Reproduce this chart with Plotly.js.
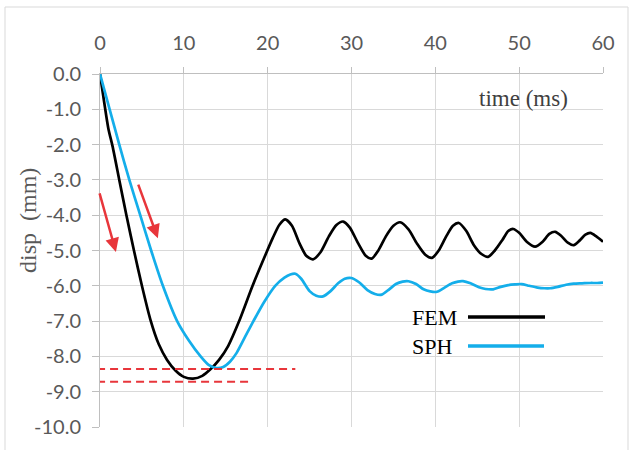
<!DOCTYPE html>
<html>
<head>
<meta charset="utf-8">
<script src="https://cdn.plot.ly/plotly-3.0.1.min.js"></script>
<style>
  html, body { margin: 0; padding: 0; background: #ffffff; }
  #chart { width: 629px; height: 450px; }
</style>
</head>
<body>
<div id="chart"></div>
<script>
// ---- data ----
const femTime = [0, 0.5, 1.0, 1.5, 2.3, 3.15, 4.05, 5.0, 6.0, 7.0, 8.0, 9.0, 10.0, 11.1, 12.2, 13.2, 14.2, 15.3, 16.6, 18.2, 19.6, 20.6, 21.4, 22.1, 22.9, 23.8, 24.6, 25.4, 26.3, 27.3, 28.2, 29.0, 29.8, 30.8, 31.7, 32.4, 33.2, 34.1, 35.0, 35.8, 36.8, 37.8, 38.8, 39.6, 40.4, 41.3, 42.1, 42.8, 43.7, 44.6, 45.5, 46.3, 47.1, 48.0, 48.7, 49.3, 50.0, 50.9, 51.9, 52.8, 53.6, 54.3, 55.0, 55.8, 56.5, 57.2, 57.9, 58.5, 59.2, 60.0];
const femDisp = [0, -0.8, -1.55, -2.05, -3.0, -4.0, -5.0, -6.0, -6.95, -7.65, -8.1, -8.4, -8.58, -8.63, -8.55, -8.36, -8.1, -7.7, -7.0, -6.0, -5.2, -4.65, -4.27, -4.12, -4.3, -4.8, -5.15, -5.25, -5.05, -4.6, -4.28, -4.18, -4.35, -4.8, -5.15, -5.23, -5.0, -4.6, -4.3, -4.2, -4.4, -4.8, -5.12, -5.21, -5.0, -4.6, -4.3, -4.22, -4.45, -4.85, -5.1, -5.18, -5.0, -4.7, -4.45, -4.39, -4.5, -4.75, -4.89, -4.75, -4.53, -4.47, -4.58, -4.78, -4.85, -4.72, -4.55, -4.5, -4.6, -4.75];

const sphTime = [0, 1.15, 2.3, 3.5, 4.8, 6.1, 7.5, 9.2, 10.6, 12.0, 13.0, 13.9, 14.7, 15.5, 16.3, 17.3, 18.3, 19.6, 20.9, 22.0, 22.7, 23.3, 24.0, 25.0, 25.8, 26.6, 27.5, 28.4, 29.2, 30.0, 30.9, 31.9, 32.8, 33.6, 34.5, 35.3, 36.1, 36.8, 37.7, 38.6, 39.4, 40.2, 41.1, 42.0, 42.7, 43.3, 44.2, 45.2, 46.0, 46.9, 47.8, 48.7, 49.5, 50.3, 51.2, 52.2, 53.0, 53.7, 54.6, 55.6, 56.5, 57.5, 58.5, 59.3, 60.0];
const sphDisp = [0, -1.0, -2.0, -3.0, -4.0, -5.0, -6.0, -7.0, -7.55, -8.0, -8.25, -8.33, -8.3, -8.15, -7.9, -7.45, -7.0, -6.45, -6.0, -5.77, -5.68, -5.66, -5.8, -6.15, -6.28, -6.3, -6.15, -5.93, -5.8, -5.78, -5.9, -6.12, -6.23, -6.25, -6.1, -5.95, -5.88, -5.87, -5.95, -6.1, -6.16, -6.17, -6.05, -5.93, -5.88, -5.87, -5.93, -6.04, -6.09, -6.1, -6.03, -5.98, -5.96, -5.95, -6.0, -6.05, -6.07, -6.07, -6.03, -5.97, -5.94, -5.93, -5.92, -5.92, -5.91];

const seriesNames = ["FEM", "SPH"];
const xTickVals = [0, 10, 20, 30, 40, 50, 60];
const yTickVals = [0, -1, -2, -3, -4, -5, -6, -7, -8, -9, -10];
const yTickText = ["0.0", "-1.0", "-2.0", "-3.0", "-4.0", "-5.0", "-6.0", "-7.0", "-8.0", "-9.0", "-10.0"];

// red dashed reference levels (peak displacement marks) and their end times
const refLevels = [-8.36, -8.72];
const refEnds = [23.3, 18.0];
// red arrows: [tailTime, tailDisp, headTime, headDisp]
const arrows = [[-0.1, -3.34, 1.9, -5.04], [4.5, -3.09, 6.9, -4.65]];

// ---- styling ----
const BLUE = "#14aeea";
const RED = "#e8363b";
const GRID = "#d9d9d9";
const AXIS = "#bfbfbf";
const TICKFONT = {family: "Lato, 'Open Sans', sans-serif", size: 20, color: "#595959"};
const SERIF = "'Liberation Serif', 'Times New Roman', serif";

// pixel -> paper helpers for decorative items
const L = 100, R = 26, T = 74, B = 23, W = 629, H = 450;
const pw = W - L - R, ph = H - T - B;
const px = x => (x - L) / pw;
const py = y => (H - B - y) / ph;

const traces = [
  {x: femTime, y: femDisp, name: seriesNames[0], type: "scatter", mode: "lines",
   line: {color: "#000000", width: 2.7, shape: "spline", smoothing: 0.7}, showlegend: false},
  {x: sphTime, y: sphDisp, name: seriesNames[1], type: "scatter", mode: "lines",
   line: {color: BLUE, width: 2.7, shape: "spline", smoothing: 0.7}, showlegend: false}
];

const shapes = [
  // outer chart frame
  {type: "rect", xref: "paper", yref: "paper", x0: px(5), x1: px(628), y0: py(470), y1: py(7),
   line: {color: GRID, width: 1}, fillcolor: "rgba(0,0,0,0)", layer: "below"},
  // legend box
  {type: "rect", xref: "paper", yref: "paper", x0: px(410), x1: px(566), y0: py(358), y1: py(302),
   line: {width: 0}, fillcolor: "#ffffff", layer: "between"},
  {type: "line", xref: "paper", yref: "paper", x0: px(468), x1: px(545), y0: py(317), y1: py(317),
   line: {color: "#000000", width: 3.5}},
  {type: "line", xref: "paper", yref: "paper", x0: px(468), x1: px(544), y0: py(346), y1: py(346),
   line: {color: BLUE, width: 3.5}}
];
refLevels.forEach((lv, i) => {
  shapes.push({type: "line", xref: "x", yref: "y", x0: -0.35, x1: refEnds[i], y0: lv, y1: lv,
    line: {color: RED, width: 2, dash: "8px,5px"}});
});

const annotations = [
  {text: "time (ms)", xref: "paper", yref: "paper", x: px(523), y: py(98), showarrow: false,
   xanchor: "center", yanchor: "middle", font: {family: SERIF, size: 23, color: "#404040"}},
  {text: "disp  (mm)", xref: "paper", yref: "paper", x: px(28), y: py(221), showarrow: false,
   textangle: -90, xanchor: "center", yanchor: "middle", font: {family: SERIF, size: 24, color: "#595959"}},
  {text: seriesNames[0], xref: "paper", yref: "paper", x: px(410), y: py(317), showarrow: false,
   xanchor: "left", yanchor: "middle", font: {family: SERIF, size: 22, color: "#000000"}},
  {text: seriesNames[1], xref: "paper", yref: "paper", x: px(410), y: py(346), showarrow: false,
   xanchor: "left", yanchor: "middle", font: {family: SERIF, size: 22, color: "#000000"}}
];
arrows.forEach(a => {
  annotations.push({text: "", x: a[2], y: a[3], ax: a[0], ay: a[1], xref: "x", yref: "y",
    axref: "x", ayref: "y", showarrow: true, arrowhead: 2, arrowsize: 1.1, arrowwidth: 2.5,
    arrowcolor: RED, standoff: 0, startstandoff: 0});
});

const layout = {
  width: W, height: H,
  margin: {l: L, r: R, t: T, b: B, pad: 0},
  paper_bgcolor: "#ffffff", plot_bgcolor: "#ffffff",
  showlegend: false,
  xaxis: {
    side: "top", range: [0, 60], tickvals: xTickVals, ticktext: xTickVals.map(String),
    showgrid: true, gridcolor: GRID, gridwidth: 1, zeroline: false,
    showline: true, linecolor: AXIS, linewidth: 1,
    ticks: "outside", ticklen: 6, tickcolor: AXIS, tickwidth: 1,
    tickfont: TICKFONT, ticklabelstandoff: 9, fixedrange: true
  },
  yaxis: {
    range: [-10, 0], tickvals: yTickVals, ticktext: yTickText,
    showgrid: true, gridcolor: GRID, gridwidth: 1, zeroline: false,
    showline: true, linecolor: AXIS, linewidth: 1,
    ticks: "outside", ticklen: 7, tickcolor: AXIS, tickwidth: 1,
    tickfont: TICKFONT, ticklabelstandoff: 7, fixedrange: true
  },
  shapes: shapes,
  annotations: annotations
};

Plotly.newPlot("chart", traces, layout, {staticPlot: true, displayModeBar: false});
</script>
</body>
</html>
